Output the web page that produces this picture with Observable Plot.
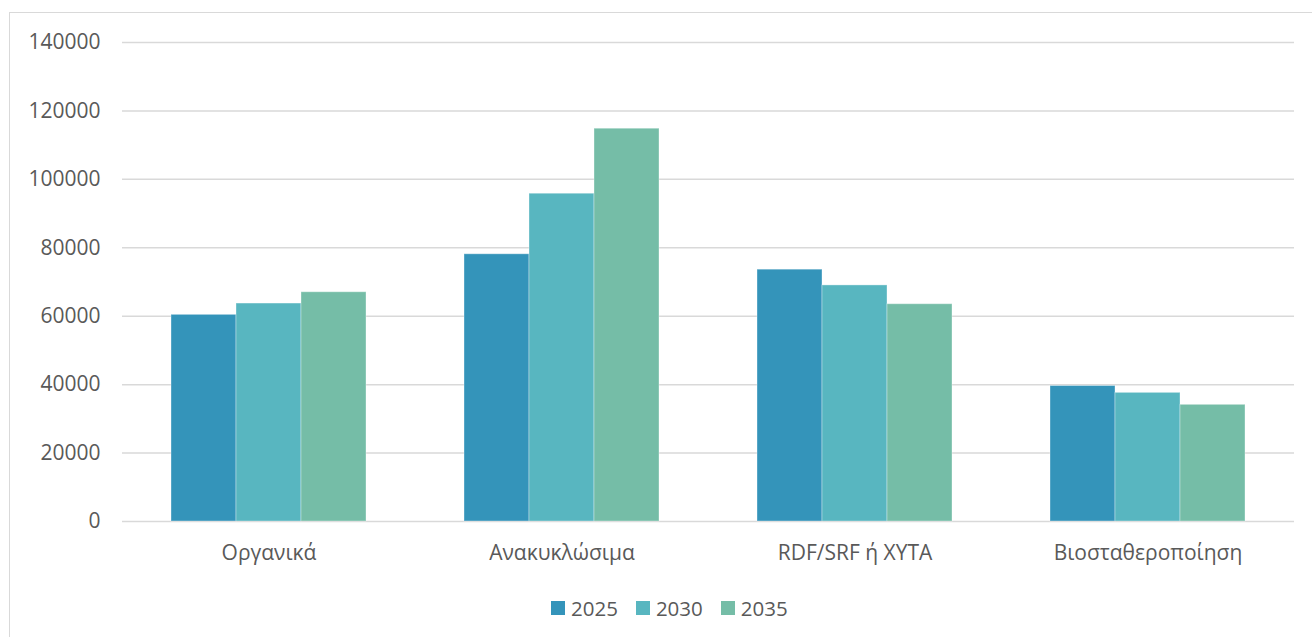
<!DOCTYPE html>
<html>
<head>
<meta charset="utf-8">
<script src="https://cdn.jsdelivr.net/npm/d3@7"></script>
<script src="https://cdn.jsdelivr.net/npm/@observablehq/plot@0.6"></script>
<style>
  html, body { margin: 0; padding: 0; background: #fff; overflow: hidden; width: 1312px; height: 637px; }
  #wrap { position: relative; width: 1312px; height: 637px; font-family: "Open Sans", sans-serif; }
  #frame { position: absolute; left: 9px; top: 12px; width: 1340px; height: 700px; border: 1.5px solid #d9d9d9; box-sizing: border-box; }
  #chart { position: absolute; left: 0; top: 0; }
  #legend { position: absolute; left: 551px; top: 594px; display: flex; align-items: center; color: #595959; font-size: 20.5px; font-family: "Open Sans", sans-serif; }
  #legend .item { display: flex; align-items: center; margin-right: 18px; }
  #legend .sw { width: 14px; height: 14px; margin-right: 6px; }
</style>
</head>
<body>
<div id="wrap">
  <div id="frame"></div>
  <div id="chart"></div>
  <div id="legend"></div>
</div>
<script>
const categories = ["Οργανικά", "Ανακυκλώσιμα", "RDF/SRF ή ΧΥΤΑ", "Βιοσταθεροποίηση"];
const years = ["2025", "2030", "2035"];
const values2025 = [60400, 78100, 73600, 39600];
const values2030 = [63700, 95800, 69000, 37600];
const values2035 = [67000, 114800, 63500, 34100];
const yTicks = [0, 20000, 40000, 60000, 80000, 100000, 120000, 140000];
const colors = ["#3494BA", "#58B6C0", "#75BDA7"];

const series = [values2025, values2030, values2035];
const data = categories.flatMap((c, i) => years.map((y, j) => ({cat: c, year: y, value: series[j][i]})));

const chart = Plot.plot({
  width: 1312,
  height: 575,
  marginLeft: 122,
  marginRight: 18,
  marginTop: 42,
  marginBottom: 54,
  style: {fontFamily: "'Open Sans', sans-serif", color: "#595959", background: "transparent"},
  fx: {domain: categories, paddingInner: 0, paddingOuter: 0, label: null},
  x: {domain: years, paddingInner: 0, paddingOuter: 0.748, axis: null},
  y: {domain: [0, 140000], label: null},
  color: {domain: years, range: colors},
  marks: [
    Plot.ruleY(yTicks, {stroke: "#d9d9d9", strokeWidth: 1.5}),
    Plot.barY(data, {fx: "cat", x: "year", y: "value", fill: "year", stroke: "#ffffff", strokeOpacity: 0.35, strokeWidth: 1}),
    Plot.axisY({ticks: yTicks, tickSize: 0, tickPadding: 22, fontSize: 21, tickFormat: d => String(d), label: null}),
    Plot.axisFx({anchor: "bottom", tickSize: 0, tickPadding: 24, fontSize: 21, label: null})
  ]
});
document.getElementById("chart").appendChild(chart);

const legend = document.getElementById("legend");
years.forEach((y, i) => {
  const item = document.createElement("div");
  item.className = "item";
  const sw = document.createElement("div");
  sw.className = "sw";
  sw.style.background = colors[i];
  const t = document.createElement("span");
  t.textContent = y;
  item.appendChild(sw);
  item.appendChild(t);
  legend.appendChild(item);
});
</script>
</body>
</html>
